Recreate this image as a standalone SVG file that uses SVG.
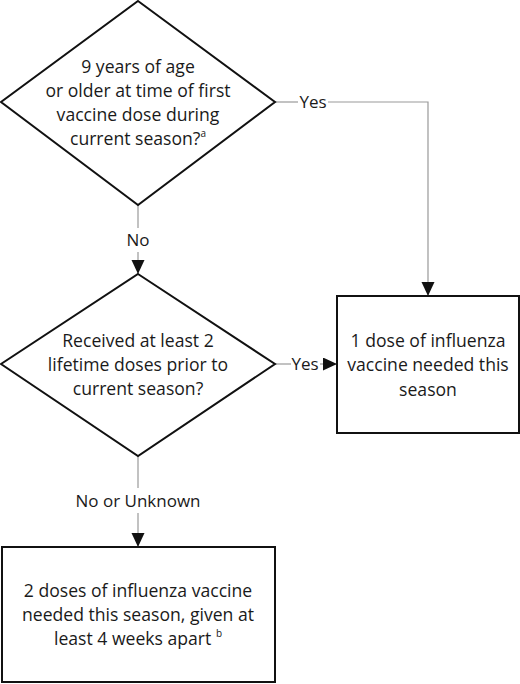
<svg xmlns="http://www.w3.org/2000/svg" width="520" height="684" viewBox="0 0 520 684">
<style>
.shape{fill:#fff;stroke:#111;stroke-width:2}
.conn{fill:none;stroke:#999;stroke-width:1.2}
text{font-family:"Open Sans","Liberation Sans",sans-serif;font-size:17.6px;fill:#1a1a1a;text-anchor:middle}
.lbl{font-size:17px}
.sup{font-size:10px}
</style>
<defs>
<marker id="arr" markerWidth="14" markerHeight="14" refX="14" refY="6.5" orient="auto" markerUnits="userSpaceOnUse">
<path d="M0,0 L14,6.5 L0,13 Z" fill="#111"/>
</marker>
</defs>
<rect width="520" height="684" fill="#fff"/>
<g id="connectors">
<path class="conn" d="M138,205 V228"/>
<path class="conn" d="M138,252 V274" marker-end="url(#arr)"/>
<path class="conn" d="M275,102 H298"/>
<path class="conn" d="M328,102 H428 V296" marker-end="url(#arr)"/>
<path class="conn" d="M275,364 H291"/>
<path class="conn" d="M320,364 H337" marker-end="url(#arr)"/>
<path class="conn" d="M138,456 V488"/>
<path class="conn" d="M138,513 V547" marker-end="url(#arr)"/>
<text class="lbl" x="138" y="246">No</text>
<text class="lbl" x="313" y="108">Yes</text>
<text class="lbl" x="305" y="370">Yes</text>
<text class="lbl" x="138" y="507">No or Unknown</text>
</g>
<g id="q1">
<polygon class="shape" points="138,1 275,102 138,205 1,102"/>
<text x="138" y="73">9 years of age</text>
<text x="138" y="97">or older at time of first</text>
<text x="138" y="121">vaccine dose during</text>
<text x="138" y="145">current season?<tspan class="sup" dy="-8">a</tspan></text>
</g>
<g id="q2">
<polygon class="shape" points="138,274 275,364 138,456 1,364"/>
<text x="138" y="347">Received at least 2</text>
<text x="138" y="371">lifetime doses prior to</text>
<text x="138" y="395">current season?</text>
</g>
<g id="one-dose">
<rect class="shape" x="337" y="296" width="182" height="137"/>
<text x="428" y="347">1 dose of influenza</text>
<text x="428" y="371">vaccine needed this</text>
<text x="428" y="396">season</text>
</g>
<g id="two-doses">
<rect class="shape" x="2" y="547" width="273" height="135"/>
<text x="138" y="597">2 doses of influenza vaccine</text>
<text x="138" y="621">needed this season, given at</text>
<text x="138" y="645">least 4 weeks apart <tspan class="sup" dy="-8">b</tspan></text>
</g>
</svg>
